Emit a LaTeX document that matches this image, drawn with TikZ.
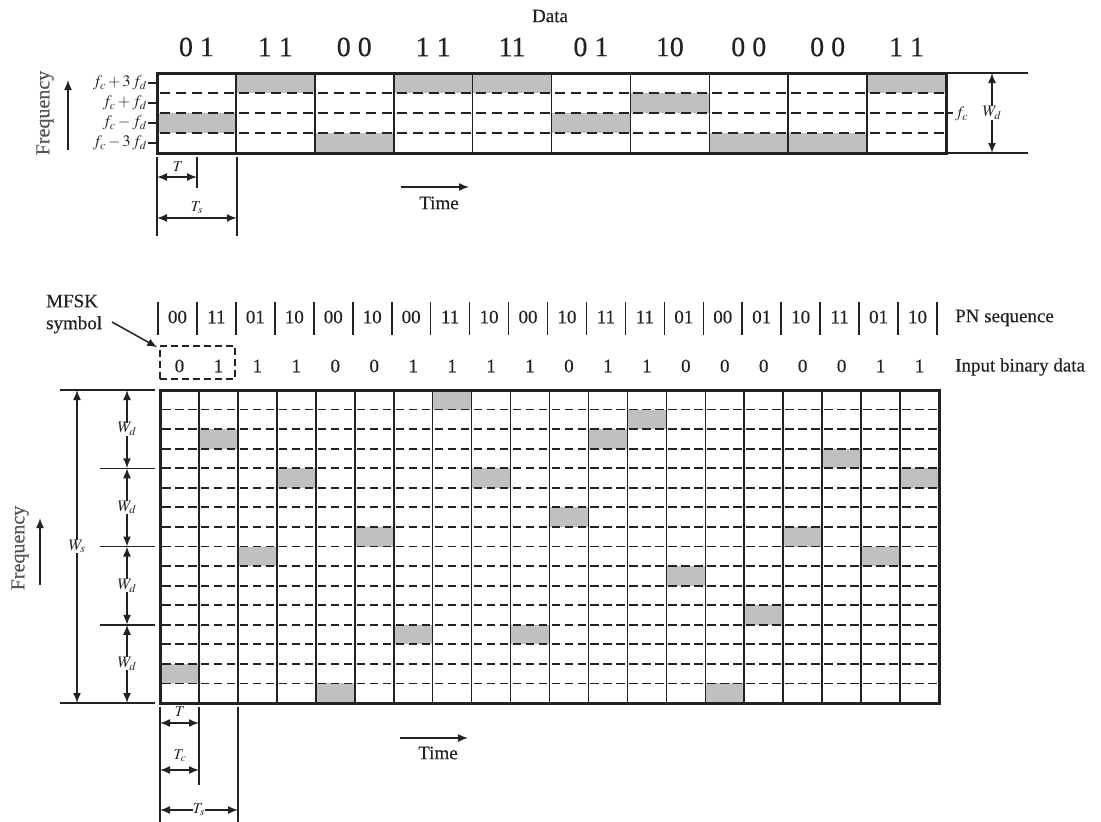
\documentclass[tikz,border=0pt]{standalone}
\usepackage{mathptmx}
\usepackage{fontspec}
\setmainfont{Liberation Serif}[FakeBold=0.4]
\usetikzlibrary{arrows.meta}
\definecolor{ink}{HTML}{222222}
\definecolor{cellgray}{HTML}{C0C0C0}
\definecolor{freqgray}{HTML}{555555}
\tikzset{
  gridline/.style={ink, line width=1.6pt},
  tdash/.style={ink, line width=1.8pt, dash pattern=on 10pt off 6pt},
  bdash/.style={ink, line width=1.8pt, dash pattern=on 8.5pt off 4.5pt},
  borderline/.style={ink, line width=3pt},
  cellfill/.style={fill=cellgray},
  tip/.tip={Latex[length=10pt,width=8pt]},
  dimarrow/.style={ink, line width=1.5pt, tip-tip},
  onearrow/.style={ink, line width=1.5pt, -tip},
  lbl/.style={inner sep=0pt, text=ink, font=\fontsize{19}{22}\selectfont},
  biglbl/.style={inner sep=0pt, text=ink, font=\fontsize{28}{30}\selectfont},
  mathlbl/.style={inner sep=0pt, text=ink, font=\fontsize{16}{18}\selectfont},
  smallmath/.style={inner sep=0pt, text=ink, font=\fontsize{15}{17}\selectfont},
  freqlbl/.style={inner sep=0pt, text=freqgray, rotate=90, font=\fontsize{20}{22}\selectfont},
  whitebg/.style={fill=white, inner sep=1.5pt},
}
\begin{document}
\begin{tikzpicture}[x=1pt,y=-1pt]
\useasboundingbox (0,0) rectangle (1101,822);

%================ TOP DIAGRAM =================
\def\tx{157}\def\txr{946}\def\ty{73}\def\tyb{153}\def\tcw{78.9}
% cells
\foreach \rr [count=\i from 0] in {2,0,3,0,0,2,1,3,3,0}
  \fill[cellfill] ({\tx+\tcw*\i},{\ty+20*\rr}) rectangle ++(\tcw,20);
% dashed rows
\foreach \k in {1,2,3}
  \foreach \c in {0,...,9}
    \draw[tdash] ({\tx+\tcw*\c+3},{\ty+20*\k}) -- ({\tx+\tcw*(\c+1)},{\ty+20*\k});
% vertical lines
\foreach \k in {1,...,9}
  \draw[gridline] ({\tx+\tcw*\k},\ty) -- ({\tx+\tcw*\k},\tyb);
\draw[borderline] (\tx,\ty) rectangle (\txr,\tyb);
% data labels
\node[lbl] (datatitle) at (550,16) {Data};
\foreach \d [count=\i from 0] in {0 1,1 1,0 0,1 1,11,0 1,10,0 0,0 0,1 1}
  \node[biglbl] (td\i) at ({\tx+\tcw*(\i+0.5)},47) {\d};
% left frequency ticks
\foreach \lab [count=\i from 0] in {{$f_c+3\,f_d$},{$f_c+f_d$},{$f_c-f_d$},{$f_c-3\,f_d$}} {
  \coordinate (tk\i) at (148,{\ty+10+20*\i});
  \coordinate (tke\i) at (\tx,{\ty+10+20*\i});
  \draw[ink, line width=1.5pt] (tk\i) -- (tke\i);
  \node[mathlbl, anchor=east] (tl\i) at ([xshift=-1pt]tk\i) {\lab};
}
\node[freqlbl] (tfreq) at (45,113) {Frequency};
\coordinate (tfa) at (68,150); \coordinate (tfb) at (68,80);
\draw[onearrow] (tfa) -- (tfb);
% right side W_d
\coordinate (rt1) at (\txr,\ty); \coordinate (rt2) at (1028,\ty);
\coordinate (rb1) at (\txr,\tyb); \coordinate (rb2) at (1028,\tyb);
\draw[ink, line width=1.5pt] (rt1) -- (rt2) (rb1) -- (rb2);
\coordinate (fct1) at (\txr,113); \coordinate (fct2) at (953,113);
\draw[ink, line width=1.5pt] (fct1) -- (fct2);
\node[mathlbl, anchor=west] (fclab) at (955,114) {$f_c$};
\coordinate (wda) at (992,\ty); \coordinate (wdb) at (992,\tyb);
\draw[dimarrow] (wda) -- node[whitebg, mathlbl] (wdlab) {$W_d$} (wdb);
% T and Ts
\coordinate (v0a) at (157,157); \coordinate (v0b) at (157,236);
\coordinate (v1a) at (197,157); \coordinate (v1b) at (197,188);
\coordinate (v2a) at (236.8,157); \coordinate (v2b) at (236.8,236);
\draw[ink, line width=1.5pt] (v0a) -- (v0b) (v1a) -- (v1b) (v2a) -- (v2b);
\coordinate (ta) at (157,177); \coordinate (tb) at (197,177);
\draw[dimarrow] (ta) -- (tb);
\node[smallmath] (tlab) at (178,167) {$T$};
\coordinate (tsa) at (157,218); \coordinate (tsb) at (236.8,218);
\draw[dimarrow] (tsa) -- (tsb);
\node[smallmath] (tslab) at (197,208) {$T_s$};
% time arrow
\coordinate (tma) at (401,187); \coordinate (tmb) at (469,187);
\draw[onearrow] (tma) -- (tmb);
\node[lbl] (ttime) at (439,203) {Time};

%================ BOTTOM DIAGRAM =================
\def\bx{160}\def\bxr{939}\def\by{390}\def\byb{703}\def\bcw{38.95}\def\brh{19.5625}
\foreach \rr [count=\i from 0] in {14,2,8,4,15,7,12,0,4,12,6,2,1,9,15,11,7,3,8,4}
  \fill[cellfill] ({\bx+\bcw*\i},{\by+\brh*\rr}) rectangle ++(\bcw,\brh);
\foreach \k in {1,...,15}
  \foreach \c in {0,...,19}
    \draw[bdash] ({\bx+\bcw*\c+2},{\by+\brh*\k}) -- ({\bx+\bcw*(\c+1)},{\by+\brh*\k});
\foreach \k in {1,...,19}
  \draw[gridline] ({\bx+\bcw*\k},\by) -- ({\bx+\bcw*\k},\byb);
\draw[borderline] (\bx,\by) rectangle (\bxr,\byb);

% PN sequence
\foreach \k in {0,...,20}
  \draw[ink, line width=1.6pt] ({\bx-2+\bcw*\k},302) -- ({\bx-2+\bcw*\k},335);
\foreach \p [count=\i from 0] in {00,11,01,10,00,10,00,11,10,00,10,11,11,01,00,01,10,11,01,10}
  \node[lbl] (pn\i) at ({\bx-2+\bcw*(\i+0.5)},317) {\p};
\node[lbl, anchor=west] (pnlab) at (955,318) {PN sequence};
% input bits
\foreach \b [count=\i from 0] in {0,1,1,1,0,0,1,1,1,1,0,1,1,0,0,0,0,0,1,1}
  \node[lbl] (ib\i) at ({\bx+\bcw*(\i+0.5)},366) {\b};
\node[lbl, anchor=west] (iblab) at (955,367) {Input binary data};
\node[draw=ink, line width=1.5pt, dash pattern=on 7pt off 4pt, minimum width=75pt, minimum height=33pt, inner sep=0pt] (mfskbox) at (197.5,362.5) {};
% MFSK symbol
\node[lbl, anchor=west, align=left] (mfsk) at (46,314) {MFSK\\symbol};
\coordinate (ma) at (112,322);
\draw[onearrow] (ma) -- ([xshift=-2pt,yshift=-2pt]mfskbox.north west);

% left dimensions
\coordinate (l1a) at (60,\by); \coordinate (l1b) at (155,\by);
\coordinate (l2a) at (60,\byb); \coordinate (l2b) at (155,\byb);
\draw[ink, line width=1.5pt] (l1a) -- (l1b) (l2a) -- (l2b);
\foreach \k in {1,2,3} {
  \coordinate (wt\k a) at (100,{\by+4*\brh*\k});
  \coordinate (wt\k b) at (155,{\by+4*\brh*\k});
  \draw[ink, line width=1.5pt] (wt\k a) -- (wt\k b);
}
\coordinate (wsa) at (77,\by); \coordinate (wsb) at (77,\byb);
\draw[dimarrow] (wsa) -- node[whitebg, mathlbl] (wslab) {$W_s$} (wsb);
\foreach \k in {0,1,2,3} {
  \coordinate (wd\k a) at (127,{\by+4*\brh*\k});
  \coordinate (wd\k b) at (127,{\by+4*\brh*(\k+1)});
  \draw[dimarrow] (wd\k a) -- node[whitebg, mathlbl] (wdl\k) {$W_d$} (wd\k b);
}
\node[freqlbl] (bfreq) at (20,548) {Frequency};
\coordinate (bfa) at (40,585); \coordinate (bfb) at (40,518);
\draw[onearrow] (bfa) -- (bfb);

% T, Tc, Ts
\coordinate (u0a) at (\bx,707); \coordinate (u0b) at (\bx,822);
\coordinate (u1a) at (199,707); \coordinate (u1b) at (199,785);
\coordinate (u2a) at (238,707); \coordinate (u2b) at (238,822);
\draw[ink, line width=1.5pt] (u0a) -- (u0b) (u1a) -- (u1b) (u2a) -- (u2b);
\coordinate (bta) at (\bx,723); \coordinate (btb) at (199,723);
\draw[dimarrow] (bta) -- (btb);
\node[smallmath] (btlab) at (180,712) {$T$};
\coordinate (btca) at (\bx,770); \coordinate (btcb) at (199,770);
\draw[dimarrow] (btca) -- (btcb);
\node[smallmath] (btclab) at (180,756) {$T_c$};
\coordinate (btsa) at (\bx,810); \coordinate (btsb) at (238,810);
\draw[dimarrow] (btsa) -- node[whitebg, smallmath] (btslab) {$T_s$} (btsb);
% time arrow
\coordinate (bma) at (400,738); \coordinate (bmb) at (468,738);
\draw[onearrow] (bma) -- (bmb);
\node[lbl] (btime) at (438,753) {Time};
\end{tikzpicture}
\end{document}
